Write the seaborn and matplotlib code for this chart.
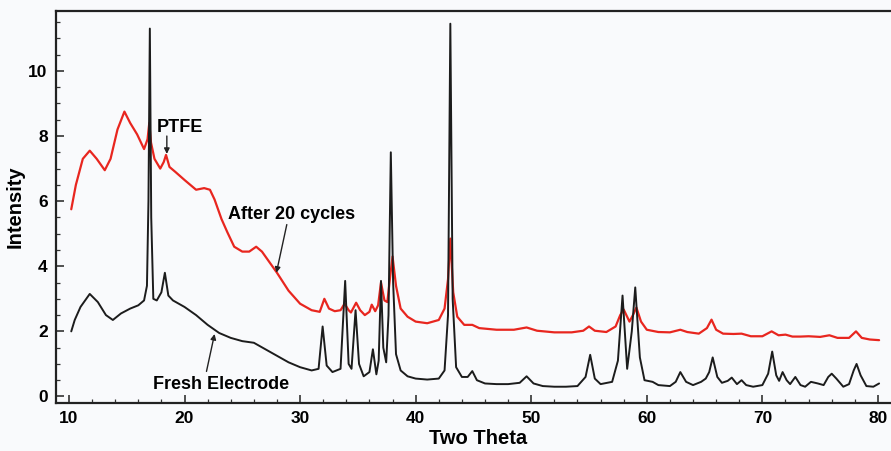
import matplotlib
matplotlib.use("Agg")
import matplotlib.pyplot as plt
from matplotlib.ticker import MultipleLocator
import seaborn as sns
import pandas as pd

# ---------------- data ----------------
fresh_x = [10.2, 10.5, 11.0, 11.8, 12.5, 13.2, 13.8, 14.5, 15.3, 16.0, 16.5, 16.75, 16.88, 17.0, 17.12,
           17.3, 17.6, 18.0, 18.3, 18.6, 19.0, 20.0, 21.0, 22.0, 23.0, 24.0, 25.0, 26.0, 27.0, 28.0,
           29.0, 30.0, 31.0, 31.6, 31.95, 32.3, 32.8, 33.5, 33.9, 34.2, 34.45, 34.8, 35.1, 35.5, 36.0,
           36.3, 36.6, 36.8, 37.0, 37.2, 37.45, 37.65, 37.85, 38.05, 38.3, 38.7, 39.3, 40.0, 41.0, 42.0,
           42.5, 42.8, 43.0, 43.2, 43.5, 44.0, 44.5, 44.9, 45.3, 46.0, 47.0, 48.0, 49.0, 49.6, 50.2,
           51.0, 52.0, 53.0, 54.0, 54.7, 55.1, 55.5, 56.0, 57.0, 57.5, 57.9, 58.3, 58.7, 59.0, 59.4,
           59.8, 60.5, 61.0, 62.0, 62.5, 62.9, 63.4, 64.0, 64.7, 65.1, 65.4, 65.7, 66.1, 66.5, 67.0,
           67.35, 67.8, 68.2, 68.6, 69.2, 70.0, 70.5, 70.85, 71.2, 71.45, 71.75, 72.1, 72.4, 72.85, 73.3,
           73.7, 74.2, 74.8, 75.3, 75.7, 76.0, 76.4, 77.0, 77.5, 77.9, 78.15, 78.5, 79.0, 79.6, 80.1]
fresh_y = [2.0, 2.35, 2.75, 3.15, 2.9, 2.5, 2.35, 2.55, 2.7, 2.8, 2.95, 3.4, 6.0, 11.3, 5.5,
           3.0, 2.95, 3.2, 3.8, 3.1, 2.95, 2.75, 2.5, 2.2, 1.95, 1.8, 1.7, 1.65, 1.45, 1.25,
           1.05, 0.9, 0.8, 0.85, 2.15, 0.95, 0.75, 0.85, 3.55, 1.0, 0.85, 2.65, 1.0, 0.62, 0.75,
           1.45, 0.68, 1.1, 3.55, 1.5, 1.05, 2.5, 7.5, 3.5, 1.3, 0.8, 0.62, 0.55, 0.52, 0.55,
           0.8, 2.5, 11.45, 3.0, 0.9, 0.6, 0.6, 0.78, 0.5, 0.4, 0.38, 0.38, 0.42, 0.62, 0.4,
           0.32, 0.3, 0.3, 0.32, 0.6, 1.28, 0.55, 0.38, 0.45, 1.1, 3.1, 0.85, 2.0, 3.35, 1.2,
           0.5, 0.45, 0.35, 0.32, 0.45, 0.75, 0.45, 0.35, 0.45, 0.55, 0.75, 1.2, 0.6, 0.42, 0.48,
           0.58, 0.38, 0.5, 0.35, 0.3, 0.35, 0.7, 1.38, 0.65, 0.48, 0.75, 0.5, 0.38, 0.6, 0.35,
           0.3, 0.45, 0.4, 0.35, 0.6, 0.7, 0.55, 0.3, 0.38, 0.8, 1.0, 0.65, 0.32, 0.3, 0.4]

cycled_x = [10.2, 10.6, 11.2, 11.8, 12.4, 13.1, 13.6, 14.2, 14.8, 15.3, 15.9, 16.5, 16.8, 16.95, 17.1,
            17.4, 17.9, 18.2, 18.4, 18.7, 19.2, 20.0, 21.0, 21.7, 22.2, 22.6, 23.2, 23.7, 24.3, 25.0,
            25.6, 26.2, 26.7, 27.3, 28.0, 29.0, 30.0, 31.0, 31.7, 32.1, 32.5, 33.0, 33.5, 33.85, 34.2,
            34.4, 34.85, 35.2, 35.6, 36.0, 36.2, 36.5, 36.75, 37.0, 37.3, 37.55, 37.8, 38.0, 38.3, 38.7,
            39.3, 40.0, 41.0, 42.0, 42.5, 42.8, 43.0, 43.25, 43.6, 44.2, 44.9, 45.5, 47.0, 48.5, 49.6,
            50.5, 52.0, 53.5, 54.5, 55.0, 55.5, 56.5, 57.3, 57.7, 58.0, 58.5, 58.8, 59.1, 59.5, 60.0,
            61.0, 62.0, 62.9, 63.5, 64.5, 65.2, 65.6, 66.0, 66.6, 67.5, 68.2, 69.0, 70.0, 70.8, 71.4,
            72.0, 72.6, 73.3, 74.0, 75.0, 75.8, 76.5, 77.5, 78.1, 78.6, 79.3, 80.1]
cycled_y = [5.75, 6.5, 7.3, 7.55, 7.3, 6.95, 7.3, 8.2, 8.75, 8.4, 8.05, 7.6, 7.9, 8.4, 7.8,
            7.3, 7.0, 7.2, 7.42, 7.05, 6.9, 6.65, 6.35, 6.4, 6.35, 6.05, 5.45, 5.05, 4.6, 4.45,
            4.45, 4.6, 4.45, 4.15, 3.8, 3.25, 2.85, 2.65, 2.6, 3.0, 2.7, 2.62, 2.65, 2.85, 2.65,
            2.58, 2.88, 2.65, 2.5, 2.6, 2.82, 2.62, 2.8, 3.5, 2.95, 2.9, 3.7, 4.3, 3.4, 2.7,
            2.45, 2.3, 2.25, 2.35, 2.7, 3.6, 4.85, 3.2, 2.45, 2.2, 2.2, 2.1, 2.05, 2.05, 2.12,
            2.02, 1.97, 1.97, 2.02, 2.15, 2.02, 1.98, 2.15, 2.5, 2.67, 2.3, 2.5, 2.73, 2.3, 2.05,
            1.98, 1.97, 2.05, 1.98, 1.93, 2.1, 2.36, 2.05, 1.93, 1.92, 1.93, 1.85, 1.85, 2.0, 1.88,
            1.9, 1.84, 1.84, 1.85, 1.83, 1.88, 1.8, 1.8, 2.0, 1.8, 1.75, 1.73]

x_ticks = [10, 20, 30, 40, 50, 60, 70, 80]
y_ticks = [0, 2, 4, 6, 8, 10]

labels = ["PTFE", "After 20 cycles", "Fresh Electrode"]

# ---------------- figure ----------------
sns.set_style("ticks")
plt.rcParams['font.family'] = ['Liberation Sans', 'DejaVu Sans']
plt.rcParams['text.color'] = 'black'
plt.rcParams['axes.labelcolor'] = 'black'

bg = "#f9fafc"
fig = plt.figure(figsize=(8.91, 4.51), dpi=100, facecolor=bg)
ax = fig.add_axes([56 / 891, 48 / 451, (891 - 56) / 891 + 0.01, (403 - 11) / 451])
ax.set_facecolor(bg)

fresh = pd.DataFrame({"two_theta": fresh_x, "intensity": fresh_y})
cycled = pd.DataFrame({"two_theta": cycled_x, "intensity": cycled_y})

sns.lineplot(data=cycled, x="two_theta", y="intensity", estimator=None,
             color="#e8261f", lw=1.6, ax=ax)
sns.lineplot(data=fresh, x="two_theta", y="intensity", estimator=None,
             color="#1c1c1c", lw=1.4, ax=ax)

ax.set_xlim(8.88, 81.9)
ax.set_ylim(-0.2, 11.84)

ax.set_xticks(x_ticks)
ax.set_yticks(y_ticks)
ax.xaxis.set_minor_locator(MultipleLocator(2))
ax.yaxis.set_minor_locator(MultipleLocator(0.5))
ax.tick_params(which="both", direction="in", top=False, right=False, color="#333333",
               labelcolor="black")
ax.tick_params(which="major", length=6, width=1.2, labelsize=12.5, pad=6)
ax.tick_params(which="minor", length=3, width=0.9)
for lab in ax.get_xticklabels() + ax.get_yticklabels():
    lab.set_fontweight("bold")

for side in ["left", "top", "bottom"]:
    ax.spines[side].set_linewidth(1.6)
    ax.spines[side].set_color("#222222")
ax.spines["right"].set_visible(False)

ax.set_xlabel("Two Theta", fontsize=14.5, fontweight="bold", labelpad=2)
ax.set_ylabel("Intensity", fontsize=14.5, fontweight="bold", labelpad=3)

arrow = dict(arrowstyle="-|>", color="#222222", lw=1.0, mutation_scale=8,
             shrinkA=0, shrinkB=0)
ax.text(19.6, 8.25, labels[0], fontsize=13, fontweight="bold", ha="center", va="center")
ax.annotate("", xy=(18.47, 7.45), xytext=(18.47, 8.0), arrowprops=arrow)

ax.text(29.3, 5.58, labels[1], fontsize=13, fontweight="bold", ha="center", va="center")
ax.annotate("", xy=(27.95, 3.8), xytext=(28.85, 5.28), arrowprops=arrow)

ax.text(23.2, 0.37, labels[2], fontsize=13, fontweight="bold", ha="center", va="center")
ax.annotate("", xy=(22.6, 1.92), xytext=(21.9, 0.77), arrowprops=arrow)

fig.savefig("out.png", dpi=100, facecolor=bg)
